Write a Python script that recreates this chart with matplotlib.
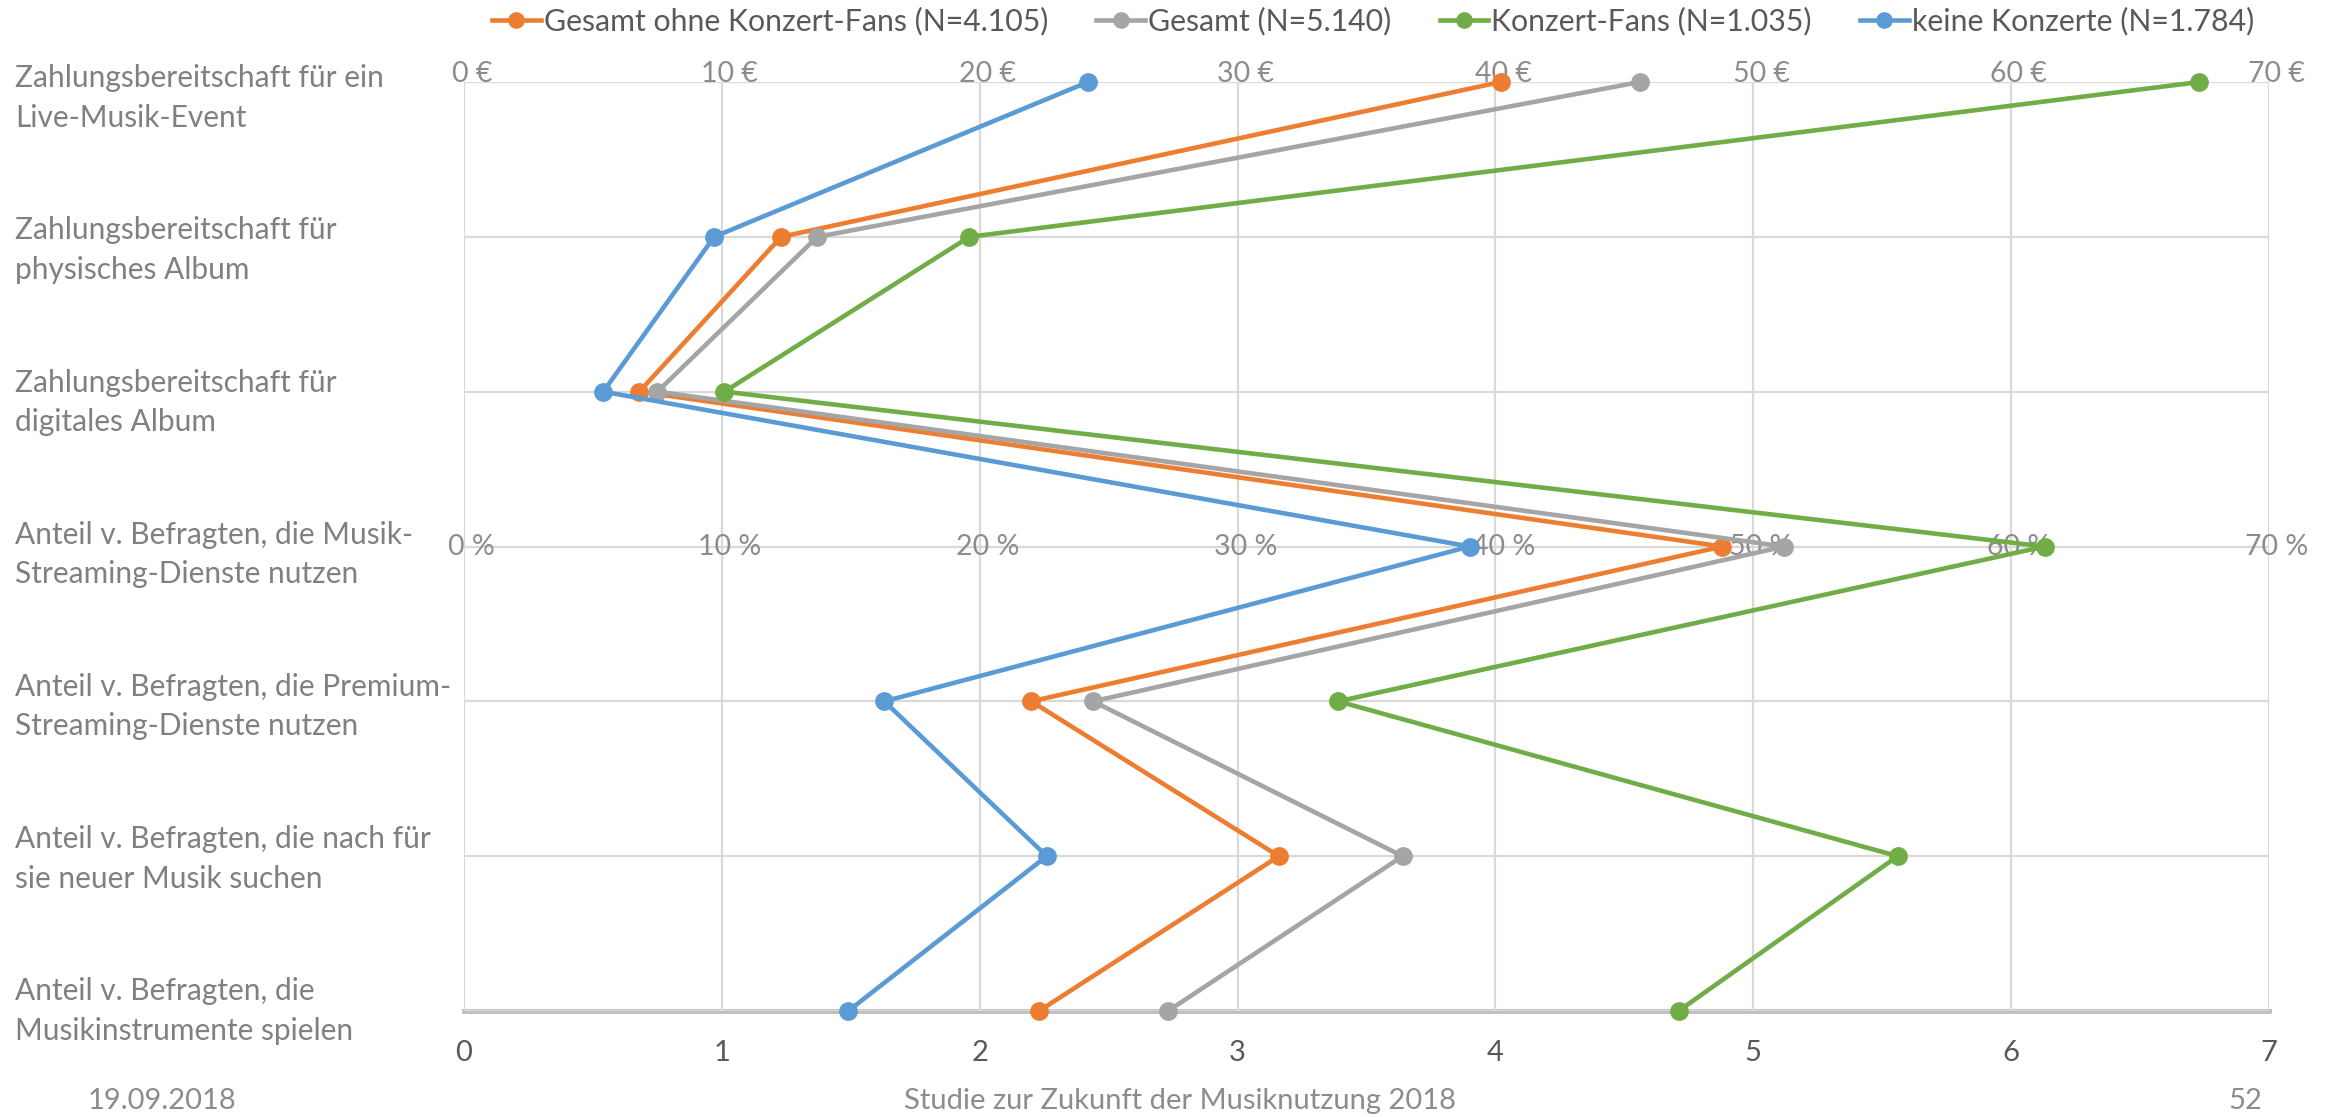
import numpy as np
import matplotlib
matplotlib.use("Agg")
import matplotlib.pyplot as plt
from matplotlib.lines import Line2D

plt.rcParams['font.family'] = ['Lato', 'DejaVu Sans']

# Categories from top to bottom
categories = [
    "Zahlungsbereitschaft für ein\nLive-Musik-Event",
    "Zahlungsbereitschaft für\nphysisches Album",
    "Zahlungsbereitschaft für\ndigitales Album",
    "Anteil v. Befragten, die Musik-\nStreaming-Dienste nutzen",
    "Anteil v. Befragten, die Premium-\nStreaming-Dienste nutzen",
    "Anteil v. Befragten, die nach für\nsie neuer Musik suchen",
    "Anteil v. Befragten, die\nMusikinstrumente spielen",
]

# first three rows in €, last four in %
ohne_fans = [40.2, 12.3, 6.8, 48.8, 22.0, 31.6, 22.3]
gesamt = [45.6, 13.7, 7.5, 51.2, 24.4, 36.4, 27.3]
konzert_fans = [67.3, 19.6, 10.1, 61.3, 33.9, 55.6, 47.1]
keine_konzerte = [24.2, 9.7, 5.4, 39.0, 16.3, 22.6, 14.9]

series_labels = ["Gesamt ohne Konzert-Fans (N=4.105)", "Gesamt (N=5.140)",
                 "Konzert-Fans (N=1.035)", "keine Konzerte (N=1.784)"]
series_colors = ["#ED7D31", "#A5A5A5", "#70AD47", "#5B9BD5"]

axis_ticks = [0, 1, 2, 3, 4, 5, 6, 7]
euro_labels = ["0 €", "10 €", "20 €", "30 €", "40 €", "50 €", "60 €", "70 €"]
pct_labels = ["0 %", "10 %", "20 %", "30 %", "40 %", "50 %", "60 %", "70 %"]

footer_left = "19.09.2018"
footer_mid = "Studie zur Zukunft der Musiknutzung 2018"
footer_right = "52"

fig = plt.figure(figsize=(23.39, 11.17), dpi=100)
W, H = 2339, 1117
ax = fig.add_axes([464 / W, 1 - 1011 / H, (2269 - 464) / W, (1011 - 82) / H])

rows = np.arange(len(categories))[::-1]  # top row = 6
all_series = [ohne_fans, gesamt, konzert_fans, keine_konzerte]
for vals, color in zip(all_series, series_colors):
    x = np.array(vals) / 10.0
    ax.plot(x, rows, color=color, lw=3.3, marker='o', markersize=12.5,
            solid_joinstyle='round', zorder=3, clip_on=False)

ax.set_xlim(0, 7)
ax.set_ylim(0, 6)
ax.set_xticks(axis_ticks)
ax.set_yticks(range(7))
ax.set_yticklabels([])
ax.grid(True, color='#d9d9d9', lw=1.6, zorder=0)
for s in ['top', 'left', 'right']:
    ax.spines[s].set_visible(False)
ax.spines['bottom'].set_color('#bfbfbf')
ax.spines['bottom'].set_linewidth(3.5)
ax.spines['bottom'].set_zorder(1)
ax.tick_params(axis='both', length=0)
ax.tick_params(axis='x', pad=21, labelsize=21, labelcolor='#595959')

# secondary scale labels (€ on top row, % on streaming row)
for t, el, pl in zip(axis_ticks, euro_labels, pct_labels):
    ax.text(t + 0.03, 6.05, el, ha='center', va='center', fontsize=20.5,
            color='#8c8c8c', zorder=2)
    ax.text(t + 0.03, 3.0, pl, ha='center', va='center', fontsize=20.5,
            color='#8c8c8c', zorder=2)

# category labels on the left
label_y = np.linspace(1 - 98 / H, 1 - 1011 / H, len(categories))
for cat, y in zip(categories, label_y):
    fig.text(15 / W, y, cat, ha='left', va='center', fontsize=21.5,
             color='#808080', linespacing=1.5)

# legend
handles = [Line2D([0], [0], color=c, lw=3.3, marker='o', markersize=11)
           for c in series_colors]
fig.legend(handles, series_labels, loc='center', ncol=4,
           bbox_to_anchor=(1373 / W, 1 - 21 / H), frameon=False,
           fontsize=21.8, labelcolor='#595959', handlelength=1.6,
           handletextpad=0.1, columnspacing=1.6)

# footer
fig.text(162 / W, 1 - 1101 / H, footer_left, ha='center', va='center',
         fontsize=21, color='#8c8c8c')
fig.text(1180 / W, 1 - 1101 / H, footer_mid, ha='center', va='center',
         fontsize=21, color='#8c8c8c')
fig.text(2245 / W, 1 - 1101 / H, footer_right, ha='center', va='center',
         fontsize=21, color='#8c8c8c')

fig.savefig("out.png", dpi=100)
